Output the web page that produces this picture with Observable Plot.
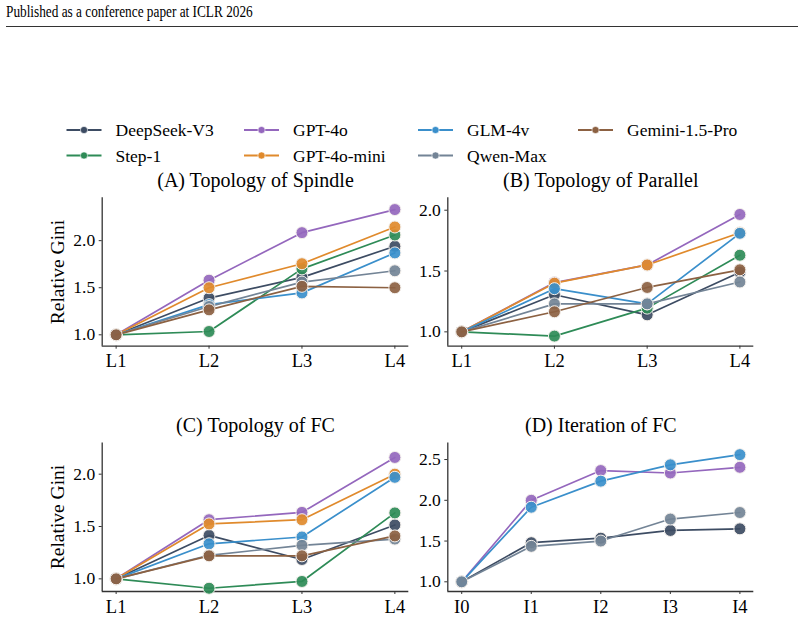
<!DOCTYPE html>
<html><head><meta charset="utf-8">
<script src="https://cdn.jsdelivr.net/npm/d3@7"></script>
<script src="https://cdn.jsdelivr.net/npm/@observablehq/plot@0.6"></script>
<style>
body{margin:0;background:#fff;}
#root{position:relative;width:804px;height:620px;font-family:"Liberation Serif","Times New Roman",serif;color:#000;overflow:hidden;background:#fff}
.abs{position:absolute;white-space:nowrap}
</style></head><body><div id="root"></div>
<script>
// ---------- data ----------
const levels = ["L1", "L2", "L3", "L4"];
const iterations = ["I0", "I1", "I2", "I3", "I4"];
const models = ["DeepSeek-V3", "Step-1", "GPT-4o", "GPT-4o-mini", "GLM-4v", "Qwen-Max", "Gemini-1.5-Pro"];
const modelColors = ["#3d4c63", "#2e8b57", "#9467bd", "#e08a2c", "#3a8fcb", "#738496", "#8c6142"];

const spindleValues = {
  "DeepSeek-V3":    [1.0, 1.39, 1.61, 1.94],
  "Step-1":         [1.0, 1.035, 1.70, 2.06],
  "GPT-4o":         [1.0, 1.58, 2.085, 2.33],
  "GPT-4o-mini":    [1.0, 1.50, 1.755, 2.145],
  "GLM-4v":         [1.0, 1.32, 1.445, 1.87],
  "Qwen-Max":       [1.0, 1.30, 1.56, 1.68],
  "Gemini-1.5-Pro": [1.0, 1.265, 1.515, 1.50]
};
const parallelValues = {
  "DeepSeek-V3":    [1.0, 1.305, 1.14, 1.49],
  "Step-1":         [1.0, 0.965, 1.195, 1.63],
  "GPT-4o":         [1.0, 1.405, 1.55, 1.965],
  "GPT-4o-mini":    [1.0, 1.40, 1.55, 1.815],
  "GLM-4v":         [1.0, 1.355, 1.23, 1.81],
  "Qwen-Max":       [1.0, 1.23, 1.23, 1.41],
  "Gemini-1.5-Pro": [1.0, 1.165, 1.365, 1.51]
};
const fcValues = {
  "DeepSeek-V3":    [1.0, 1.415, 1.185, 1.515],
  "Step-1":         [1.0, 0.91, 0.975, 1.63],
  "GPT-4o":         [1.0, 1.565, 1.635, 2.16],
  "GPT-4o-mini":    [1.0, 1.525, 1.565, 2.0],
  "GLM-4v":         [1.0, 1.335, 1.40, 1.97],
  "Qwen-Max":       [1.0, 1.225, 1.32, 1.38],
  "Gemini-1.5-Pro": [1.0, 1.22, 1.22, 1.41]
};
const iterationValues = {
  "DeepSeek-V3": [1.0, 1.48, 1.535, 1.63, 1.65],
  "GPT-4o":      [1.0, 2.0, 2.365, 2.335, 2.405],
  "GLM-4v":      [1.0, 1.915, 2.235, 2.435, 2.56],
  "Qwen-Max":    [1.0, 1.435, 1.50, 1.77, 1.85]
};
const yTickValues = [1.0, 1.5, 2.0];
const yTickValuesD = [1.0, 1.5, 2.0, 2.5];
const headerText = "Published as a conference paper at ICLR 2026";
const yLabel = "Relative Gini";

// ---------- build ----------
const root = document.getElementById("root");
const FONT = '"Liberation Serif","Times New Roman",serif';
const colorOf = m => modelColors[models.indexOf(m)];

function addDiv(text, css) {
  const d = document.createElement("div");
  d.className = "abs";
  d.textContent = text;
  Object.assign(d.style, css);
  root.appendChild(d);
  return d;
}

// header
addDiv(headerText, {left: "6px", top: "3px", fontSize: "16px", lineHeight: "18px",
  transform: "scaleX(0.83)", transformOrigin: "0 0"});
const rule = document.createElement("div");
rule.className = "abs";
Object.assign(rule.style, {left: "6px", top: "26px", width: "792px", height: "1.2px", background: "#333"});
root.appendChild(rule);

// legend
const legendPos = [[115.5, 130], [115.5, 155.5], [293, 130], [293, 155.5], [467, 130], [467, 155.5], [627, 130]];
const ns = "http://www.w3.org/2000/svg";
const leg = document.createElementNS(ns, "svg");
leg.setAttribute("width", 804); leg.setAttribute("height", 60);
leg.style.position = "absolute"; leg.style.left = "0px"; leg.style.top = "110px";
models.forEach((m, k) => {
  const [tx, cy] = legendPos[k];
  const y = cy - 110;
  const c = colorOf(m);
  const ln = document.createElementNS(ns, "line");
  ln.setAttribute("x1", tx - 49); ln.setAttribute("x2", tx - 14);
  ln.setAttribute("y1", y); ln.setAttribute("y2", y);
  ln.setAttribute("stroke", c); ln.setAttribute("stroke-width", 1.8);
  leg.appendChild(ln);
  const ci = document.createElementNS(ns, "circle");
  ci.setAttribute("cx", tx - 31.5); ci.setAttribute("cy", y); ci.setAttribute("r", 3.6);
  ci.setAttribute("fill", c); ci.setAttribute("stroke", "white"); ci.setAttribute("stroke-width", 0.6);
  leg.appendChild(ci);
  const t = document.createElementNS(ns, "text");
  t.setAttribute("x", tx); t.setAttribute("y", y + 6);
  t.setAttribute("font-family", FONT); t.setAttribute("font-size", 17.5);
  t.textContent = m;
  leg.appendChild(t);
});
root.appendChild(leg);

function panel({xLabels, values, yDomain, yTicks, title, left, top, width, height, mL, mR, mT, mB, pad, titleDy}) {
  const n = xLabels.length;
  const marks = [
    Plot.ruleY([yDomain[0]], {stroke: "#333", strokeWidth: 1.3}),
    Plot.ruleX([-pad], {stroke: "#333", strokeWidth: 1.3}),
    Plot.axisX(d3.range(n), {tickFormat: i => xLabels[i], tickSize: 3, tickPadding: 5, fontSize: 18.5, stroke: "#333", fill: "#000", label: null}),
    Plot.axisY(yTicks, {tickFormat: d3.format(".1f"), tickSize: 3, tickPadding: 4, fontSize: 17.5, stroke: "#333", fill: "#000", label: null}),
    Plot.text([title], {frameAnchor: "top", dy: titleDy, lineAnchor: "bottom", fontSize: 20, fill: "#000"})
  ];
  for (const m of models) {
    if (!values[m]) continue;
    const rows = values[m].map((v, i) => ({i, v}));
    const c = colorOf(m);
    marks.push(Plot.line(rows, {x: "i", y: "v", stroke: c, strokeWidth: 1.7}));
    marks.push(Plot.dot(rows, {x: "i", y: "v", r: 6, fill: c, fillOpacity: 0.92, stroke: "#f4f0ec", strokeWidth: 1}));
  }
  const svg = Plot.plot({
    width, height,
    marginLeft: mL, marginRight: mR, marginTop: mT, marginBottom: mB,
    x: {domain: [-pad, n - 1 + pad], label: null},
    y: {domain: yDomain, label: null},
    style: {fontFamily: FONT, background: "transparent", overflow: "visible", color: "#000"},
    marks
  });
  svg.style.position = "absolute";
  svg.style.left = left + "px";
  svg.style.top = top + "px";
  root.appendChild(svg);
}

panel({xLabels: levels, values: spindleValues, yDomain: [0.879, 2.455], yTicks: yTickValues,
  title: "(A) Topology of Spindle", left: 0, top: 170, width: 410, height: 205,
  mL: 101.7, mR: 1.7, mT: 27.3, mB: 29.3, pad: 0.15, titleDy: -11.3});
panel({xLabels: levels, values: parallelValues, yDomain: [0.882, 2.102], yTicks: yTickValues,
  title: "(B) Topology of Parallel", left: 410, top: 170, width: 394, height: 205,
  mL: 37.3, mR: 50.7, mT: 27.3, mB: 29.3, pad: 0.15, titleDy: -11.3});
panel({xLabels: levels, values: fcValues, yDomain: [0.879, 2.298], yTicks: yTickValues,
  title: "(C) Topology of FC", left: 0, top: 415, width: 410, height: 205,
  mL: 101.7, mR: 1.7, mT: 27.5, mB: 29, pad: 0.15, titleDy: -10.8});
panel({xLabels: iterations, values: iterationValues, yDomain: [0.881, 2.703], yTicks: yTickValuesD,
  title: "(D) Iteration of FC", left: 410, top: 415, width: 394, height: 205,
  mL: 37.3, mR: 50.7, mT: 27.5, mB: 29, pad: 0.2, titleDy: -10.8});

// y-axis labels (left column)
[271.5, 516.7].forEach(cy => {
  addDiv(yLabel, {left: "58px", top: cy + "px", fontSize: "19.5px", lineHeight: "20px",
    transform: "translate(-50%,-50%) rotate(-90deg)"});
});
</script>
</body></html>
